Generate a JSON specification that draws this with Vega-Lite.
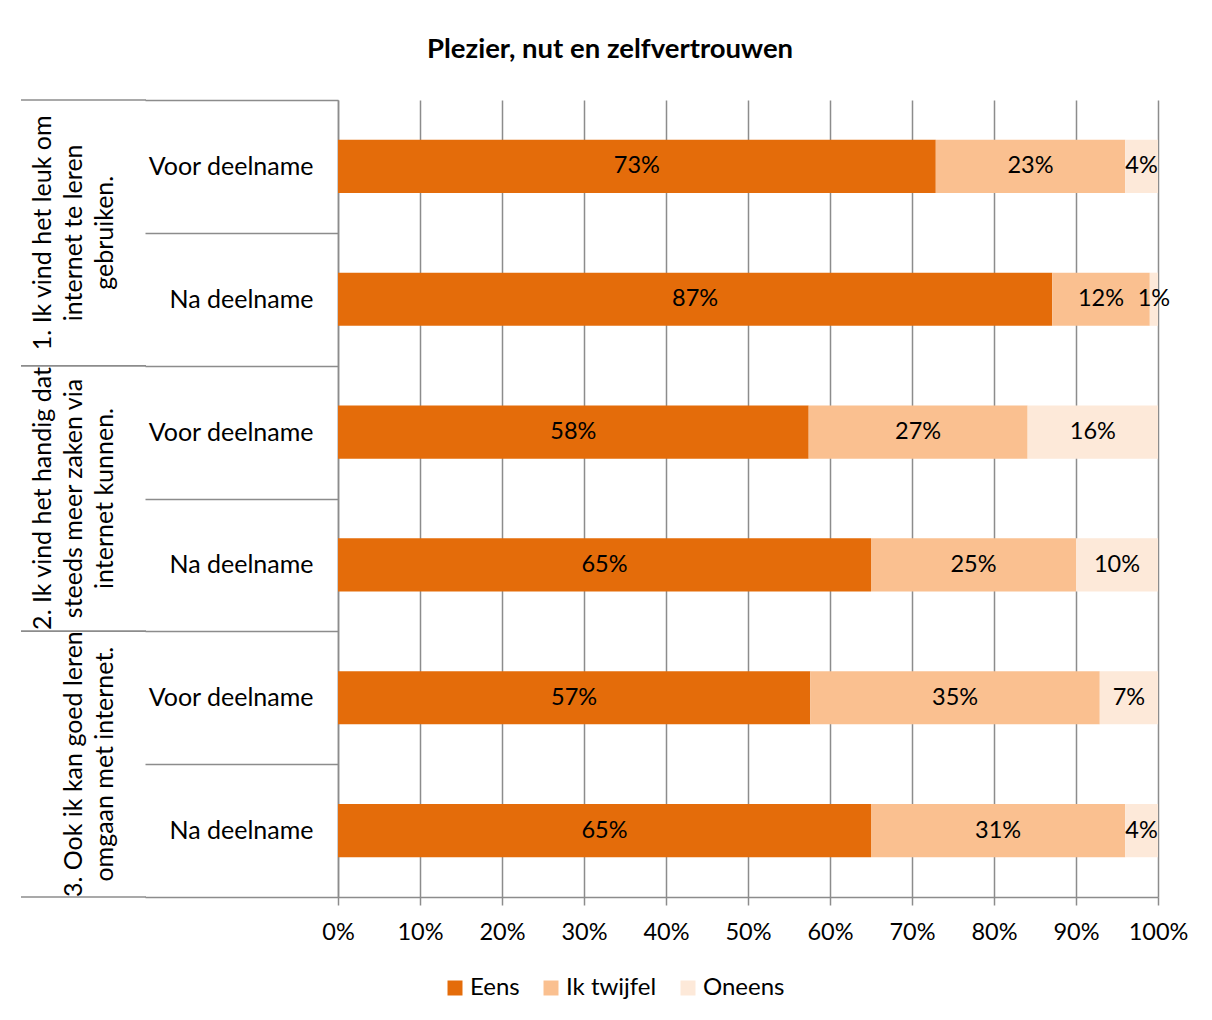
{
  "$schema": "https://vega.github.io/schema/vega-lite/v6.json",
  "background": "white",
  "padding": {"left": 20, "top": 35, "right": 10, "bottom": 10},
  "title": {"text": "Plezier, nut en zelfvertrouwen", "font": "Lato", "fontSize": 27.5, "fontWeight": "bold", "color": "#000000", "anchor": "middle", "offset": 25, "dx": 6},
  "config": {
    "view": {"stroke": null},
    "font": "Lato",
    "axis": {"labelFont": "Lato", "labelColor": "#000000", "domainColor": "#8c8c8c", "tickColor": "#8c8c8c", "gridColor": "#8c8c8c", "domainWidth": 1.5, "tickWidth": 1.5, "gridWidth": 1.5}
  },
  "datasets": {
    "groups": [
      {"grp": "1", "label": "1. Ik vind het leuk om\ninternet te leren\ngebruiken."},
      {"grp": "2", "label": "2. Ik vind het handig dat\nsteeds meer zaken via\ninternet kunnen."},
      {"grp": "3", "label": "3. Ook ik kan goed leren\nomgaan met internet."}
    ],
    "bars": [
      {"row": "1|Voor deelname", "cat": "Eens", "v": 0.729, "lbl": "73%"},
      {"row": "1|Voor deelname", "cat": "Ik twijfel", "v": 0.231, "lbl": "23%"},
      {"row": "1|Voor deelname", "cat": "Oneens", "v": 0.040, "lbl": "4%"},
      {"row": "1|Na deelname", "cat": "Eens", "v": 0.871, "lbl": "87%"},
      {"row": "1|Na deelname", "cat": "Ik twijfel", "v": 0.119, "lbl": "12%"},
      {"row": "1|Na deelname", "cat": "Oneens", "v": 0.010, "lbl": "1%"},
      {"row": "2|Voor deelname", "cat": "Eens", "v": 0.574, "lbl": "58%"},
      {"row": "2|Voor deelname", "cat": "Ik twijfel", "v": 0.267, "lbl": "27%"},
      {"row": "2|Voor deelname", "cat": "Oneens", "v": 0.159, "lbl": "16%"},
      {"row": "2|Na deelname", "cat": "Eens", "v": 0.650, "lbl": "65%"},
      {"row": "2|Na deelname", "cat": "Ik twijfel", "v": 0.250, "lbl": "25%"},
      {"row": "2|Na deelname", "cat": "Oneens", "v": 0.100, "lbl": "10%"},
      {"row": "3|Voor deelname", "cat": "Eens", "v": 0.576, "lbl": "57%"},
      {"row": "3|Voor deelname", "cat": "Ik twijfel", "v": 0.353, "lbl": "35%"},
      {"row": "3|Voor deelname", "cat": "Oneens", "v": 0.071, "lbl": "7%"},
      {"row": "3|Na deelname", "cat": "Eens", "v": 0.650, "lbl": "65%"},
      {"row": "3|Na deelname", "cat": "Ik twijfel", "v": 0.310, "lbl": "31%"},
      {"row": "3|Na deelname", "cat": "Oneens", "v": 0.040, "lbl": "4%"}
    ]
  },
  "spacing": -3,
  "resolve": {"scale": {"y": "independent"}},
  "hconcat": [
    {
      "width": 125,
      "height": 797,
      "data": {"name": "groups"},
      "layer": [
        {
          "mark": {"type": "rule", "color": "#8c8c8c", "strokeWidth": 1.5},
          "encoding": {"y": {"field": "grp", "type": "nominal", "bandPosition": 0, "axis": null, "scale": {"paddingInner": 0, "paddingOuter": 0}}}
        },
        {
          "mark": {"type": "rule", "color": "#8c8c8c", "strokeWidth": 1.5},
          "encoding": {"y": {"field": "grp", "type": "nominal", "bandPosition": 1, "axis": null}}
        },
        {
          "transform": [{"filter": "datum.grp != '3'"}],
          "mark": {"type": "text", "angle": 270, "align": "center", "baseline": "alphabetic", "lineBreak": "\n", "lineHeight": 31, "fontSize": 25, "font": "Lato", "color": "#000000", "dy": -32.5},
          "encoding": {
            "y": {"field": "grp", "type": "nominal", "axis": null},
            "text": {"field": "label", "type": "nominal"}
          }
        },
        {
          "transform": [{"filter": "datum.grp == '3'"}],
          "mark": {"type": "text", "angle": 270, "align": "center", "baseline": "alphabetic", "lineBreak": "\n", "lineHeight": 31, "fontSize": 25, "font": "Lato", "color": "#000000", "dy": -1.5},
          "encoding": {
            "y": {"field": "grp", "type": "nominal", "axis": null},
            "text": {"field": "label", "type": "nominal"}
          }
        }
      ]
    },
    {
      "width": 820,
      "height": 797,
      "data": {"name": "bars"},
      "encoding": {
        "y": {
          "field": "row", "type": "nominal", "sort": null,
          "scale": {"paddingInner": 0, "paddingOuter": 0},
          "axis": {"title": null, "labelExpr": "split(datum.value, '|')[1]", "tickBand": "extent", "tickSize": 193, "labelPadding": -168, "labelFontSize": 25, "labelAlign": "right", "grid": false}
        }
      },
      "layer": [
        {
          "mark": {"type": "bar", "height": {"band": 0.4}},
          "encoding": {
            "x": {
              "field": "v", "type": "quantitative", "stack": "zero",
              "scale": {"domain": [0, 1], "nice": false},
              "axis": {"title": null, "values": [0, 0.1, 0.2, 0.3, 0.4, 0.5, 0.6, 0.7, 0.8, 0.9, 1], "format": ".0%", "grid": true, "tickSize": 8, "labelFontSize": 23.5, "labelPadding": 15, "labelFlush": false}
            },
            "color": {
              "field": "cat", "type": "nominal",
              "scale": {"domain": ["Eens", "Ik twijfel", "Oneens"], "range": ["#E46C0A", "#FAC090", "#FDE9D9"]},
              "legend": {"title": null, "orient": "none", "direction": "horizontal", "legendX": 422, "legendY": 876, "symbolType": "square", "symbolSize": 225, "symbolStrokeWidth": 0, "labelFontSize": 24, "labelFont": "Lato", "labelColor": "#000000", "labelOffset": 3, "columnPadding": 19}
            },
            "order": {"field": "cat"}
          }
        },
        {
          "mark": {"type": "text", "fontSize": 23.5, "font": "Lato", "color": "#000000", "align": "center", "baseline": "middle"},
          "encoding": {
            "x": {"field": "v", "type": "quantitative", "stack": "zero", "bandPosition": 0.5},
            "text": {"field": "lbl", "type": "nominal"},
            "order": {"field": "cat"}
          }
        }
      ]
    }
  ]
}
